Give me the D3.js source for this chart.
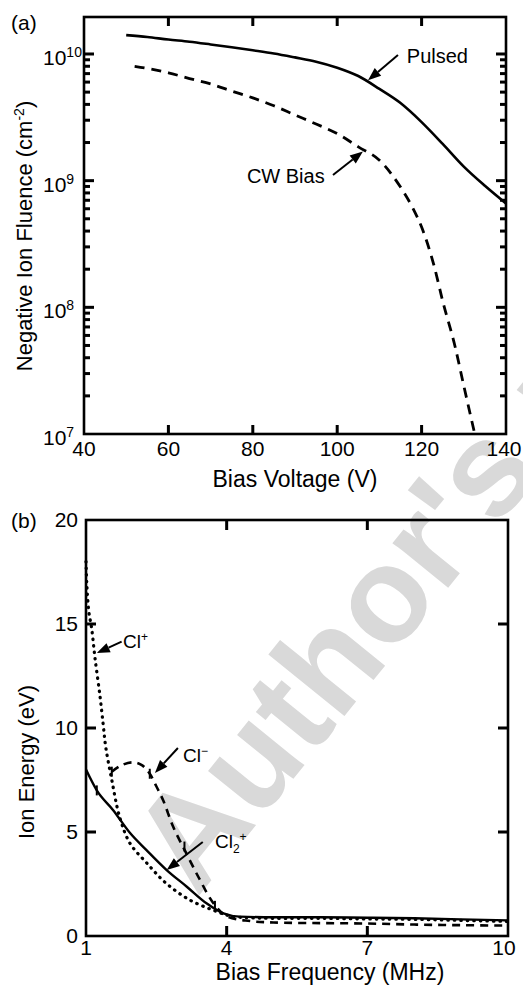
<!DOCTYPE html>
<html>
<head>
<meta charset="utf-8">
<script src="https://cdn.jsdelivr.net/npm/d3@7"></script>
<style>
  body { margin: 0; background: #fff; }
  svg { display: block; font-family: "Liberation Sans", Arial, sans-serif; }
</style>
</head>
<body>
<div id="chart"></div>
<script>
// ---- panel (a): negative ion fluence vs bias voltage ----
const pulsedVoltage = [50, 55, 60, 65, 70, 75, 80, 85, 90, 95, 100, 105, 110, 115, 120, 125, 130, 135, 140];
const pulsedFluence = [1.41e10, 1.36e10, 1.30e10, 1.25e10, 1.19e10, 1.13e10, 1.07e10, 1.01e10, 9.4e9, 8.7e9,
  7.8e9, 6.7e9, 5.3e9, 4.1e9, 2.9e9, 1.95e9, 1.29e9, 9.1e8, 6.6e8];
const cwVoltage = [52, 55, 60, 65, 70, 75, 80, 85, 90, 95, 100, 105, 110, 115, 118, 120, 123, 125, 128, 130, 132.6];
const cwFluence = [8.0e9, 7.7e9, 7.1e9, 6.4e9, 5.8e9, 5.1e9, 4.5e9, 3.9e9, 3.3e9, 2.8e9, 2.35e9, 1.85e9, 1.45e9,
  8.9e8, 6.0e8, 4.3e8, 2.1e8, 1.12e8, 4.8e7, 2.4e7, 1.0e7];
const voltageTicks = [40, 60, 80, 100, 120, 140];
const fluenceDecades = [1e7, 1e8, 1e9, 1e10];
const fluenceExponents = ["7", "8", "9", "10"];
const fluenceMinorSteps = [2, 3, 4, 5, 6, 7, 8, 9];

// ---- panel (b): ion energy vs bias frequency ----
const clPlusFreq = [1.0, 1.02, 1.06, 1.12, 1.19, 1.3, 1.37, 1.42, 1.55, 1.72, 1.94, 2.3, 2.7, 3.2, 3.7, 4.1, 4.5, 5, 6, 7, 8, 9, 10];
const clPlusEnergy = [18.0, 16.8, 15.6, 14.8, 13.4, 11.5, 10.1, 9.1, 7.5, 5.7, 4.45, 3.5, 2.55, 1.75, 1.25, 0.95, 0.88, 0.85, 0.85, 0.82, 0.8, 0.75, 0.7];
const clMinusFreq = [1.55, 1.75, 2.0, 2.2, 2.36, 2.5, 2.65, 2.86, 3.14, 3.43, 3.71, 4.0, 4.5, 5, 6, 7, 8, 9, 10];
const clMinusEnergy = [7.9, 8.2, 8.35, 8.2, 7.8, 7.2, 6.5, 5.25, 3.97, 2.7, 1.6, 0.95, 0.72, 0.65, 0.62, 0.6, 0.55, 0.52, 0.5];
const cl2Freq = [1.0, 1.23, 1.58, 1.94, 2.29, 2.72, 3.15, 3.57, 3.93, 4.28, 5, 6, 7, 8, 9, 10];
const cl2Energy = [8.0, 7.0, 6.05, 4.95, 4.13, 3.17, 2.37, 1.57, 1.09, 0.93, 0.9, 0.9, 0.88, 0.85, 0.8, 0.75];
// small cross marks drawn on the curves
const markFreq = [1.23, 1.55, 2.36, 3.1, 3.75];
const markEnergy = [7.0, 7.9, 7.8, 4.3, 1.45];
const freqTicks = [1, 4, 7, 10];
const energyTicks = [0, 5, 10, 15, 20];

const W = 523, H = 986;
const svg = d3.select("#chart").append("svg").attr("width", W).attr("height", H);

// watermark behind everything
svg.append("text")
  .attr("transform", "translate(197,898) rotate(-51)")
  .attr("font-size", 135).attr("font-weight", "bold")
  .attr("fill", "#d9d9d9")
  .text("Author's personal copy");

function arrow(g, x1, y1, x2, y2) {
  const a = Math.atan2(y2 - y1, x2 - x1), len = 13, half = 5;
  const bx = x2 - len * Math.cos(a), by = y2 - len * Math.sin(a);
  g.append("line").attr("x1", x1).attr("y1", y1).attr("x2", bx).attr("y2", by)
    .attr("stroke", "#000").attr("stroke-width", 2);
  g.append("path")
    .attr("d", `M${x2},${y2}L${bx + half * Math.sin(a)},${by - half * Math.cos(a)}L${bx - half * Math.sin(a)},${by + half * Math.cos(a)}Z`)
    .attr("fill", "#000");
}

// inward tick marks on a frame, drawn as small filled bars
const TW = 3;
function xTicks(g, scale, values, y, len) {
  g.append("g").selectAll("rect").data(values).join("rect")
    .attr("x", d => scale(d) - TW / 2).attr("width", TW)
    .attr("y", Math.min(y, y + len)).attr("height", Math.abs(len))
    .attr("fill", "#000");
}
function yTicks(g, scale, values, x, len) {
  g.append("g").selectAll("rect").data(values).join("rect")
    .attr("y", d => scale(d) - TW / 2).attr("height", TW)
    .attr("x", Math.min(x, x + len)).attr("width", Math.abs(len))
    .attr("fill", "#000");
}

// ================= panel (a) =================
const x1 = d3.scaleLinear().domain([40, 140]).range([84, 506]);
const y1 = d3.scaleLog().domain([1e7, Math.pow(10, 10.292)]).range([434, 17]);
const ga = svg.append("g");

ga.append("rect").attr("x", 84).attr("y", 17).attr("width", 422).attr("height", 417)
  .attr("fill", "none").attr("stroke", "#000").attr("stroke-width", 2.6);

const innerV = voltageTicks.slice(1, -1);
xTicks(ga, x1, innerV, 434, -9);
xTicks(ga, x1, innerV, 17, 9);
const minorFluence = [];
fluenceDecades.slice(0, 3).forEach(d => fluenceMinorSteps.forEach(m => minorFluence.push(d * m)));
yTicks(ga, y1, fluenceDecades.slice(1), 84, 10);
yTicks(ga, y1, minorFluence, 84, 6);
yTicks(ga, y1, fluenceDecades.slice(1), 506, -10);
yTicks(ga, y1, minorFluence, 506, -6);

// x labels
ga.append("g").selectAll("text").data(voltageTicks).join("text")
  .attr("x", d => x1(d)).attr("y", 456)
  .attr("dx", (d, i) => i === voltageTicks.length - 1 ? -2 : 0)
  .attr("text-anchor", "middle").attr("font-size", 21).text(d => d);

// y labels 10^n
fluenceDecades.forEach((d, i) => {
  const t = ga.append("text").attr("x", 43).attr("y", y1(d) + 11)
    .attr("font-size", 21).attr("fill", "#000");
  t.append("tspan").text("10");
  t.append("tspan").attr("dy", -8).attr("font-size", 14).text(fluenceExponents[i]);
});

// curves
const lineA = d3.line().x(d => x1(d[0])).y(d => y1(d[1])).curve(d3.curveMonotoneX);
ga.append("path").datum(d3.zip(pulsedVoltage, pulsedFluence)).attr("d", lineA)
  .attr("fill", "none").attr("stroke", "#000").attr("stroke-width", 2.6);
ga.append("path").datum(d3.zip(cwVoltage, cwFluence)).attr("d", lineA)
  .attr("fill", "none").attr("stroke", "#000").attr("stroke-width", 2.8)
  .attr("stroke-dasharray", "10,7");

// annotations
ga.append("text").attr("x", x1(116.5)).attr("y", y1(8.5e9)).attr("font-size", 20).text("Pulsed");
arrow(ga, x1(114.4), y1(9.8e9), x1(107.3), y1(6.2e9));
ga.append("text").attr("x", x1(78.6)).attr("y", y1(9.55e8)).attr("font-size", 20).text("CW Bias");
arrow(ga, x1(99), y1(1.11e9), x1(106.1), y1(1.7e9));

ga.append("text").attr("x", 11).attr("y", 30).attr("font-size", 21).text("(a)");
ga.append("text").attr("x", 295).attr("y", 487).attr("text-anchor", "middle")
  .attr("font-size", 23).text("Bias Voltage (V)");
const yta = ga.append("text").attr("transform", "translate(32,236) rotate(-90)")
  .attr("text-anchor", "middle").attr("font-size", 22);
yta.append("tspan").text("Negative Ion Fluence (cm");
yta.append("tspan").attr("dy", -8).attr("font-size", 14).text("-2");
yta.append("tspan").attr("dy", 8).text(")");

// ================= panel (b) =================
const x2 = d3.scaleLinear().domain([1, 10]).range([86, 508]);
const y2 = d3.scaleLinear().domain([0, 20]).range([936, 520]);
const gb = svg.append("g");

gb.append("rect").attr("x", 86).attr("y", 520).attr("width", 422).attr("height", 416)
  .attr("fill", "none").attr("stroke", "#000").attr("stroke-width", 2.6);

const innerF = freqTicks.slice(1, -1);
const innerE = energyTicks.slice(1, -1);
xTicks(gb, x2, innerF, 936, -10);
xTicks(gb, x2, innerF, 520, 10);
yTicks(gb, y2, innerE, 86, 10);
yTicks(gb, y2, innerE, 508, -10);

gb.append("g").selectAll("text").data(freqTicks).join("text")
  .attr("x", d => x2(d)).attr("y", 955)
  .attr("dx", (d, i) => i === freqTicks.length - 1 ? -4 : 0)
  .attr("text-anchor", "middle").attr("font-size", 21).text(d => d);
gb.append("g").selectAll("text").data(energyTicks).join("text")
  .attr("x", 78).attr("y", d => y2(d) + 7)
  .attr("text-anchor", "end").attr("font-size", 21).text(d => d);

const lineB = d3.line().x(d => x2(d[0])).y(d => y2(d[1])).curve(d3.curveMonotoneX);
const lineBc = d3.line().x(d => x2(d[0])).y(d => y2(d[1])).curve(d3.curveCatmullRom);
gb.append("path").datum(d3.zip(cl2Freq, cl2Energy)).attr("d", lineB)
  .attr("fill", "none").attr("stroke", "#000").attr("stroke-width", 2.4);
gb.append("path").datum(d3.zip(clMinusFreq, clMinusEnergy)).attr("d", lineBc)
  .attr("fill", "none").attr("stroke", "#000").attr("stroke-width", 2.6)
  .attr("stroke-dasharray", "8,6");
gb.append("path").datum(d3.zip(clPlusFreq, clPlusEnergy)).attr("d", lineBc)
  .attr("fill", "none").attr("stroke", "#000").attr("stroke-width", 3.2)
  .attr("stroke-linecap", "round").attr("stroke-dasharray", "0.5,6");

gb.append("g").selectAll("rect").data(d3.zip(markFreq, markEnergy)).join("rect")
  .attr("x", d => x2(d[0]) - 1).attr("width", 2)
  .attr("y", d => y2(d[1]) - 5).attr("height", 10)
  .attr("fill", "#000");

// annotations
const t1 = gb.append("text").attr("x", x2(1.79)).attr("y", y2(13.85)).attr("font-size", 19);
t1.append("tspan").text("Cl");
t1.append("tspan").attr("dy", -7).attr("font-size", 12).text("+");
arrow(gb, x2(1.76), y2(14.15), x2(1.23), y2(13.6));
const t2 = gb.append("text").attr("x", x2(3.07)).attr("y", y2(8.38)).attr("font-size", 19);
t2.append("tspan").text("Cl");
t2.append("tspan").attr("dy", -7).attr("font-size", 12).text("\u2212");
arrow(gb, x2(2.96), y2(9.04), x2(2.47), y2(7.84));
const t3 = gb.append("text").attr("x", x2(3.75)).attr("y", y2(4.23)).attr("font-size", 19);
t3.append("tspan").text("Cl");
t3.append("tspan").attr("dy", 5).attr("font-size", 12).text("2");
t3.append("tspan").attr("dy", -12).attr("font-size", 12).text("+");
arrow(gb, x2(3.49), y2(4.52), x2(2.72), y2(3.17));

gb.append("text").attr("x", 11).attr("y", 528).attr("font-size", 21).text("(b)");
gb.append("text").attr("x", 330).attr("y", 980).attr("text-anchor", "middle")
  .attr("font-size", 23).text("Bias Frequency (MHz)");
gb.append("text").attr("transform", "translate(34,762) rotate(-90)")
  .attr("text-anchor", "middle").attr("font-size", 22).text("Ion Energy (eV)");
</script>
</body>
</html>
